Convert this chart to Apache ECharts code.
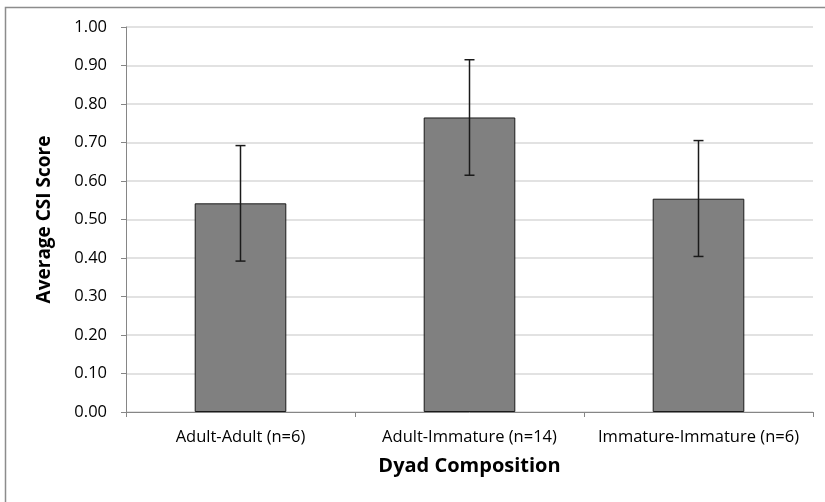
<!DOCTYPE html>
<html>
<head>
<meta charset="utf-8">
<script src="https://cdn.jsdelivr.net/npm/echarts@6/dist/echarts.min.js"></script>
<style>
  html, body { margin: 0; padding: 0; background: #fff; }
  #main { width: 825px; height: 502px; }
</style>
</head>
<body>
<div id="main"></div>
<script>
// data
var categories = ['Adult-Adult (n=6)', 'Adult-Immature (n=14)', 'Immature-Immature (n=6)'];
var means = [0.542, 0.765, 0.554];
var errLow = [0.392, 0.615, 0.404];
var errHigh = [0.692, 0.915, 0.705];

(function(){
    var chart = echarts.init(document.getElementById('main'));
    var font = '"Open Sans", "Noto Sans", sans-serif';

    var errData = [];
    for (var i = 0; i < categories.length; i++) {
        errData.push([i, errLow[i], errHigh[i]]);
    }

    var option = {
        backgroundColor: '#fff',
        animation: false,
        graphic: [{
            type: 'rect',
            shape: { x: 5.5, y: 7.5, width: 840, height: 520 },
            style: { fill: 'none', stroke: '#8c8c8c', lineWidth: 1.5 },
            silent: true
        }],
        grid: { left: 126, right: 12, top: 27, bottom: 90 },
        xAxis: {
            type: 'category',
            data: categories,
            name: 'Dyad Composition',
            nameLocation: 'middle',
            nameGap: 44,
            nameTextStyle: { fontFamily: font, fontSize: 20, fontWeight: 'bold', color: '#000' },
            axisLine: { lineStyle: { color: '#868686', width: 1 } },
            axisTick: { show: true, length: 5, lineStyle: { color: '#868686' } },
            axisLabel: { fontFamily: font, fontSize: 16.5, color: '#000', margin: 17, interval: 0, hideOverlap: false },
            splitLine: { show: false }
        },
        yAxis: {
            type: 'value',
            min: 0,
            max: 1,
            interval: 0.1,
            name: 'Average CSI Score',
            nameLocation: 'middle',
            nameGap: 72,
            nameTextStyle: { fontFamily: font, fontSize: 19, fontWeight: 'bold', color: '#000' },
            axisLine: { show: true, lineStyle: { color: '#868686', width: 1 } },
            axisTick: { show: true, length: 5, lineStyle: { color: '#868686' } },
            axisLabel: {
                fontFamily: font, fontSize: 16.5, color: '#000', margin: 19,
                formatter: function (v) { return v.toFixed(2); }
            },
            splitLine: { lineStyle: { color: '#d9d9d9', width: 1.5 } }
        },
        series: [
            {
                name: 'mean',
                type: 'bar',
                data: means,
                barWidth: '40%',
                itemStyle: { color: '#808080', borderColor: '#1a1a1a', borderWidth: 1 }
            },
            {
                name: 'err',
                type: 'custom',
                data: errData,
                z: 10,
                renderItem: function (params, api) {
                    var idx = api.value(0);
                    var lo = api.coord([idx, api.value(1)]);
                    var hi = api.coord([idx, api.value(2)]);
                    var half = 5;
                    var st = { stroke: '#1a1a1a', lineWidth: 1.5 };
                    return {
                        type: 'group',
                        children: [
                            { type: 'line', shape: { x1: hi[0], y1: hi[1], x2: lo[0], y2: lo[1] }, style: st },
                            { type: 'line', shape: { x1: hi[0] - half, y1: hi[1], x2: hi[0] + half, y2: hi[1] }, style: st },
                            { type: 'line', shape: { x1: lo[0] - half, y1: lo[1], x2: lo[0] + half, y2: lo[1] }, style: st }
                        ]
                    };
                }
            }
        ]
    };

    chart.setOption(option);
})();
</script>
</body>
</html>
